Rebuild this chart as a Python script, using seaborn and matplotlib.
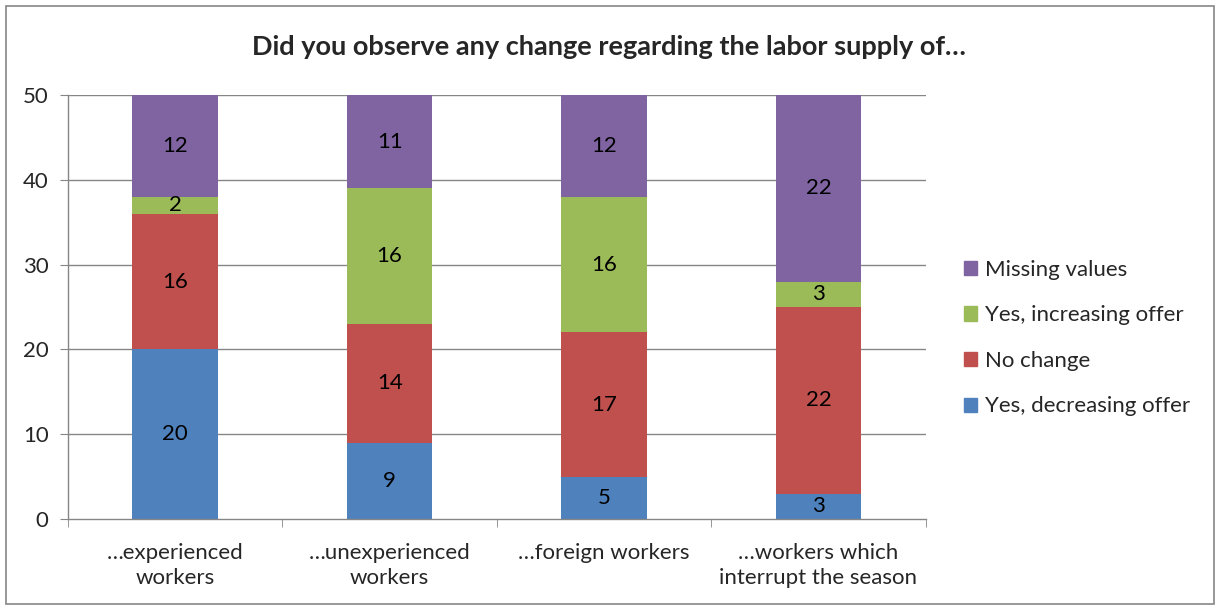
import matplotlib.pyplot as plt
import matplotlib.patches as mpatches
import numpy as np
import seaborn as sns

categories = ["…experienced\nworkers", "…unexperienced\nworkers", "…foreign workers",
              "…workers which\ninterrupt the season"]
series_names = ["Yes, decreasing offer", "No change", "Yes, increasing offer", "Missing values"]
decreasing = [20, 9, 5, 3]
no_change = [16, 14, 17, 22]
increasing = [2, 16, 16, 3]
missing = [12, 11, 12, 22]
colors = ["#4F81BD", "#C0504D", "#9BBB59", "#8064A2"]

sns.set_style("white")
plt.rcParams['font.family'] = ['Lato', 'DejaVu Sans']

fig = plt.figure(figsize=(12.18, 6.06), dpi=100)
ax = fig.add_axes([0.0558, 0.1436, 0.7042, 0.6996])

grid_c = "#868686"
for y in range(10, 51, 10):
    ax.axhline(y, color=grid_c, lw=1, zorder=0)

bottom = np.zeros(len(categories))
for name, vals, c in zip(series_names, [decreasing, no_change, increasing, missing], colors):
    sns.barplot(x=categories, y=vals, bottom=bottom, color=c, width=0.4,
                saturation=1, ax=ax, zorder=2, linewidth=0)
    ax.bar_label(ax.containers[-1], label_type='center', fontsize=16, color='black')
    bottom = bottom + np.array(vals)

ax.set_ylim(0, 50)
ax.set_xlim(-0.5, 3.5)
ax.set_yticks(range(0, 51, 10))
ax.tick_params(axis='y', labelsize=16, length=6, color=grid_c, direction='out', left=True, pad=8)
ax.set_xticks(np.arange(-0.5, 4, 1), minor=True)
ax.tick_params(axis='x', which='major', length=0, labelsize=16, pad=17)
ax.tick_params(axis='x', which='minor', length=6, color=grid_c, direction='out', bottom=True)
for lbl in ax.get_xticklabels():
    lbl.set_linespacing(1.35)
for side in ['top', 'right']:
    ax.spines[side].set_visible(False)
for side in ['left', 'bottom']:
    ax.spines[side].set_color(grid_c)
    ax.spines[side].set_linewidth(1)
ax.set_xlabel('')
ax.set_ylabel('')

fig.suptitle("Did you observe any change regarding the labor supply of…", x=0.5, y=0.922,
             va='center', fontsize=19.5, fontweight='bold')

handles = [mpatches.Patch(color=c, label=n) for n, c in zip(series_names, colors)][::-1]
fig.legend(handles=handles, loc='center left', bbox_to_anchor=(0.775, 0.442), frameon=False,
           fontsize=16, handlelength=0.6, handleheight=0.6, handletextpad=0.35, labelspacing=1.15)

border = mpatches.Rectangle((0.005, 0.003), 0.992, 0.987, transform=fig.transFigure,
                            fill=False, edgecolor=grid_c, lw=1.2)
fig.patches.append(border)

fig.savefig("out.png", dpi=100)
